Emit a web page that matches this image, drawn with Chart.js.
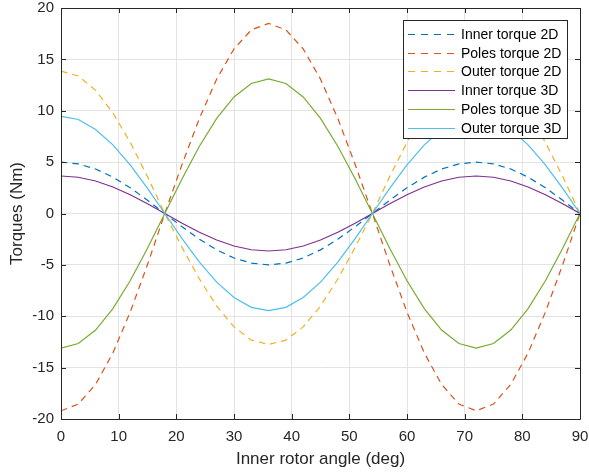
<!DOCTYPE html>
<html>
<head>
<meta charset="utf-8">
<script src="https://cdn.jsdelivr.net/npm/chart.js@4/dist/chart.umd.min.js"></script>
<style>
html,body{margin:0;padding:0;background:#fff;}
#wrap{width:589px;height:476px;position:relative;}
</style>
</head>
<body>
<div id="wrap"><canvas id="c" width="589" height="476"></canvas></div>
<script>
const angles = [0,3,6,9,12,15,18,21,24,27,30,33,36,39,42,45,48,51,54,57,60,63,66,69,72,75,78,81,84,87,90];
const innerTorque2D = [5.00,4.83,4.33,3.54,2.50,1.29,0,-1.29,-2.50,-3.54,-4.33,-4.83,-5.00,-4.83,-4.33,-3.54,-2.50,-1.29,0,1.29,2.50,3.54,4.33,4.83,5.00,4.83,4.33,3.54,2.50,1.29,0];
const polesTorque2D = [-19.2,-18.55,-16.63,-13.57,-9.6,-4.97,0,4.79,9.25,13.08,16.02,17.87,18.5,17.87,16.02,13.08,9.25,4.79,0,-4.97,-9.6,-13.57,-16.63,-18.55,-19.2,-18.55,-16.63,-13.57,-9.6,-4.97,0];
const outerTorque2D = [13.85,13.38,11.99,9.79,6.93,3.59,0,-3.30,-6.38,-9.01,-11.04,-12.32,-12.75,-12.32,-11.04,-9.01,-6.38,-3.30,0,3.59,6.93,9.79,11.99,13.38,13.85,13.38,11.99,9.79,6.93,3.59,0];
const innerTorque3D = [3.65,3.53,3.16,2.58,1.83,0.95,0,-0.95,-1.83,-2.58,-3.16,-3.53,-3.65,-3.53,-3.16,-2.58,-1.83,-0.95,0,0.95,1.83,2.58,3.16,3.53,3.65,3.53,3.16,2.58,1.83,0.95,0];
const polesTorque3D = [-13.1,-12.65,-11.34,-9.26,-6.55,-3.39,0,3.39,6.55,9.26,11.34,12.65,13.1,12.65,11.34,9.26,6.55,3.39,0,-3.39,-6.55,-9.26,-11.34,-12.65,-13.1,-12.65,-11.34,-9.26,-6.55,-3.39,0];
const outerTorque3D = [9.45,9.15,8.18,6.68,4.73,2.45,0,-2.45,-4.73,-6.68,-8.18,-9.13,-9.45,-9.13,-8.18,-6.68,-4.73,-2.45,0,2.45,4.73,6.68,8.18,9.13,9.45,9.13,8.18,6.68,4.73,2.45,0];
const seriesLabels = ["Inner torque 2D","Poles torque 2D","Outer torque 2D","Inner torque 3D","Poles torque 3D","Outer torque 3D"];
const xTicks = [0,10,20,30,40,50,60,70,80,90];
const yTicks = [-20,-15,-10,-5,0,5,10,15,20];

const seriesValues = [innerTorque2D,polesTorque2D,outerTorque2D,innerTorque3D,polesTorque3D,outerTorque3D];
const colors = ["#0072BD","#D95319","#EDB120","#7E2F8E","#77AC30","#4DBEEE"];
const dashes = [[6.5,5],[6.5,5],[6.5,5],[],[],[]];
const legendDashes = [[7,6],[7,6],[7,6],[],[],[]];
const FONT = "'Liberation Sans', Arial, Helvetica, sans-serif";
const AX = "#262626";

const datasets = seriesValues.map((vals,i)=>({
  label: seriesLabels[i],
  data: vals.map((v,j)=>({x:angles[j], y:v})),
  borderColor: colors[i],
  backgroundColor: colors[i],
  borderWidth: 1.2,
  borderDash: dashes[i],
  pointRadius: 0,
  tension: 0,
  fill: false,
  order: 6 - i
}));

const boxPlugin = {
  id: 'boxPlugin',
  afterDraw(chart){
    const ctx = chart.ctx;
    const a = chart.chartArea;
    const xs = chart.scales.x, ys = chart.scales.y;
    ctx.save();
    ctx.strokeStyle = AX;
    ctx.lineWidth = 1;
    ctx.beginPath();
    ctx.rect(Math.round(a.left)+0.5, Math.round(a.top)+0.5, Math.round(a.right-a.left), Math.round(a.bottom-a.top));
    ctx.stroke();
    const tl = 5;
    ctx.beginPath();
    xTicks.forEach(t=>{
      const px = Math.round(xs.getPixelForValue(t))+0.5;
      ctx.moveTo(px, a.bottom); ctx.lineTo(px, a.bottom - tl);
      ctx.moveTo(px, a.top); ctx.lineTo(px, a.top + tl);
    });
    yTicks.forEach(t=>{
      const py = Math.round(ys.getPixelForValue(t))+0.5;
      ctx.moveTo(a.left, py); ctx.lineTo(a.left + tl, py);
      ctx.moveTo(a.right, py); ctx.lineTo(a.right - tl, py);
    });
    ctx.stroke();

    // legend
    const lx = 403.5, ly = 20.5, lw = 164, lh = 118;
    ctx.fillStyle = "#fff";
    ctx.fillRect(lx, ly, lw, lh);
    ctx.strokeStyle = AX;
    ctx.strokeRect(lx, ly, lw, lh);
    ctx.font = "14px " + FONT;
    ctx.textBaseline = "middle";
    ctx.textAlign = "left";
    chart.data.datasets.forEach((ds,i)=>{
      const y = Math.round(34 + i*18.7) + 0.5;
      ctx.strokeStyle = ds.borderColor;
      ctx.lineWidth = 1.2;
      ctx.setLineDash(legendDashes[i]);
      ctx.beginPath();
      ctx.moveTo(408, y); ctx.lineTo(455, y);
      ctx.stroke();
      ctx.setLineDash([]);
      ctx.fillStyle = "#000";
      ctx.fillText(ds.label, 461, y + 1);
    });
    ctx.restore();
  }
};

new Chart(document.getElementById('c'), {
  type: 'line',
  data: { datasets },
  options: {
    responsive: false,
    animation: false,
    layout: { padding: { top: 8, right: 9, left: 0, bottom: 0 } },
    plugins: { legend: { display: false }, tooltip: { enabled: false } },
    scales: {
      x: {
        type: 'linear', min: 0, max: 90,
        afterBuildTicks(s){ s.ticks = xTicks.map(v=>({value:v})); },
        afterFit(s){ s.height = 57; s.paddingLeft = 0; s.paddingRight = 0; },
        grid: { color: "#e3e3e3", drawTicks: false, lineWidth: 1 },
        border: { display: false },
        ticks: { color: AX, font: { family: FONT, size: 15 }, padding: 9, maxRotation: 0 },
        title: { display: true, text: "Inner rotor angle (deg)", color: AX, font: { family: FONT, size: 17 }, padding: { top: 2, bottom: 6 } }
      },
      y: {
        type: 'linear', min: -20, max: 20,
        afterBuildTicks(s){ s.ticks = yTicks.map(v=>({value:v})); },
        afterFit(s){ s.width = 61; s.paddingTop = 0; s.paddingBottom = 0; },
        grid: { color: "#e3e3e3", drawTicks: false, lineWidth: 1 },
        border: { display: false },
        ticks: { color: AX, font: { family: FONT, size: 15 }, padding: 7 },
        title: { display: true, text: "Torques (Nm)", color: AX, font: { family: FONT, size: 17 }, padding: { top: 7, bottom: 0 } }
      }
    }
  },
  plugins: [boxPlugin]
});
</script>
</body>
</html>
